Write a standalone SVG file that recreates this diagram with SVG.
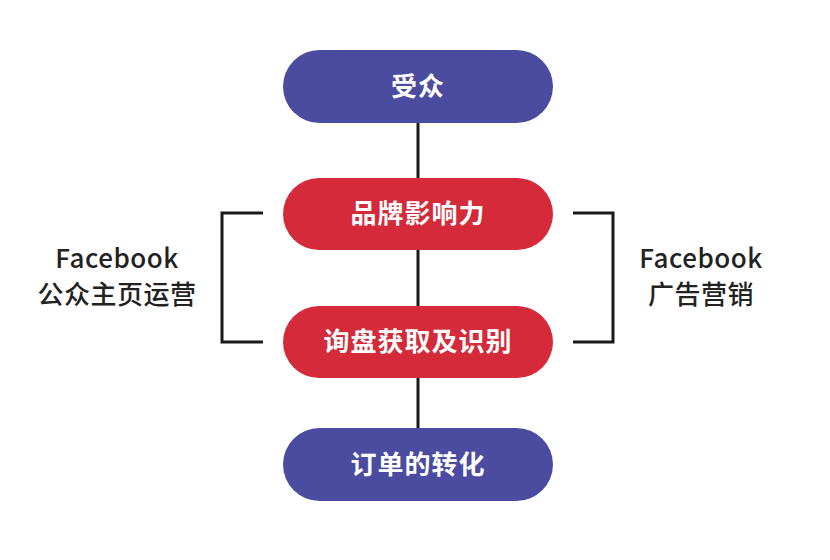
<svg xmlns="http://www.w3.org/2000/svg" width="830" height="560" viewBox="0 0 830 560">
<style>
.blue{fill:#4b4b9f}.red{fill:#d42a3a}
.t{font-family:"Noto Sans CJK SC",sans-serif;font-size:26px;font-weight:bold;fill:#fff;text-anchor:middle;letter-spacing:1px}
.s{font-family:"Noto Sans CJK SC",sans-serif;font-size:26px;font-weight:500;fill:#222;text-anchor:middle;letter-spacing:0.5px}
.ln{stroke:#1a1a1a;stroke-width:3;fill:none}
</style>
<rect width="830" height="560" fill="#fff"/>
<g id="connectors">
<line class="ln" x1="418" y1="123" x2="418" y2="178"/>
<line class="ln" x1="418" y1="250" x2="418" y2="306"/>
<line class="ln" x1="418" y1="378" x2="418" y2="428"/>
<path class="ln" d="M263 213H222V342H263"/>
<path class="ln" d="M573 213H613V342H573"/>
</g>
<g id="n1"><rect class="blue" x="283" y="50" width="270" height="73" rx="36.5"/><text class="t" x="418" y="96">受众</text></g>
<g id="n2"><rect class="red" x="283" y="178" width="270" height="72" rx="36"/><text class="t" x="418" y="223">品牌影响力</text></g>
<g id="n3"><rect class="red" x="283" y="306" width="270" height="72" rx="36"/><text class="t" x="418" y="351">询盘获取及识别</text></g>
<g id="n4"><rect class="blue" x="283" y="428" width="270" height="73" rx="36.5"/><text class="t" x="418" y="474">订单的转化</text></g>
<g id="left"><text class="s" x="117" y="268">Facebook</text><text class="s" x="117" y="304">公众主页运营</text></g>
<g id="right"><text class="s" x="701" y="268">Facebook</text><text class="s" x="701" y="304">广告营销</text></g>
</svg>
